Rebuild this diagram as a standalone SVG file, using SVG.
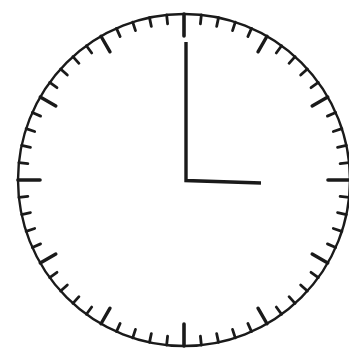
<svg xmlns="http://www.w3.org/2000/svg" width="349" height="357" viewBox="0 0 349 357">
<style>
.face{fill:#ffffff;stroke:#1a1a1a;stroke-width:2.4}
.tm{stroke:#1a1a1a;stroke-width:2.8;stroke-linecap:round}
.th{stroke:#1a1a1a;stroke-width:3.4;stroke-linecap:round}
.tq{stroke:#1a1a1a;stroke-width:3.6;stroke-linecap:round}
.hand{fill:none;stroke:#1a1a1a;stroke-width:3.4;stroke-linejoin:miter;stroke-linecap:butt}
</style>
<defs>
<line id="m" class="tm" x1="184" y1="14" x2="184" y2="23"/>
<line id="h" class="th" x1="184" y1="14" x2="184" y2="32"/>
<line id="q" class="tq" x1="184" y1="14" x2="184" y2="36"/>
</defs>
<rect width="349" height="357" fill="#ffffff"/>
<g id="face"><circle class="face" cx="184" cy="180" r="166"/></g>
<g id="ticks">
<use href="#q" transform="rotate(0 184 180)"/>
<use href="#m" transform="rotate(6 184 180)"/>
<use href="#m" transform="rotate(12 184 180)"/>
<use href="#m" transform="rotate(18 184 180)"/>
<use href="#m" transform="rotate(24 184 180)"/>
<use href="#h" transform="rotate(30 184 180)"/>
<use href="#m" transform="rotate(36 184 180)"/>
<use href="#m" transform="rotate(42 184 180)"/>
<use href="#m" transform="rotate(48 184 180)"/>
<use href="#m" transform="rotate(54 184 180)"/>
<use href="#h" transform="rotate(60 184 180)"/>
<use href="#m" transform="rotate(66 184 180)"/>
<use href="#m" transform="rotate(72 184 180)"/>
<use href="#m" transform="rotate(78 184 180)"/>
<use href="#m" transform="rotate(84 184 180)"/>
<use href="#q" transform="rotate(90 184 180)"/>
<use href="#m" transform="rotate(96 184 180)"/>
<use href="#m" transform="rotate(102 184 180)"/>
<use href="#m" transform="rotate(108 184 180)"/>
<use href="#m" transform="rotate(114 184 180)"/>
<use href="#h" transform="rotate(120 184 180)"/>
<use href="#m" transform="rotate(126 184 180)"/>
<use href="#m" transform="rotate(132 184 180)"/>
<use href="#m" transform="rotate(138 184 180)"/>
<use href="#m" transform="rotate(144 184 180)"/>
<use href="#h" transform="rotate(150 184 180)"/>
<use href="#m" transform="rotate(156 184 180)"/>
<use href="#m" transform="rotate(162 184 180)"/>
<use href="#m" transform="rotate(168 184 180)"/>
<use href="#m" transform="rotate(174 184 180)"/>
<use href="#q" transform="rotate(180 184 180)"/>
<use href="#m" transform="rotate(186 184 180)"/>
<use href="#m" transform="rotate(192 184 180)"/>
<use href="#m" transform="rotate(198 184 180)"/>
<use href="#m" transform="rotate(204 184 180)"/>
<use href="#h" transform="rotate(210 184 180)"/>
<use href="#m" transform="rotate(216 184 180)"/>
<use href="#m" transform="rotate(222 184 180)"/>
<use href="#m" transform="rotate(228 184 180)"/>
<use href="#m" transform="rotate(234 184 180)"/>
<use href="#h" transform="rotate(240 184 180)"/>
<use href="#m" transform="rotate(246 184 180)"/>
<use href="#m" transform="rotate(252 184 180)"/>
<use href="#m" transform="rotate(258 184 180)"/>
<use href="#m" transform="rotate(264 184 180)"/>
<use href="#q" transform="rotate(270 184 180)"/>
<use href="#m" transform="rotate(276 184 180)"/>
<use href="#m" transform="rotate(282 184 180)"/>
<use href="#m" transform="rotate(288 184 180)"/>
<use href="#m" transform="rotate(294 184 180)"/>
<use href="#h" transform="rotate(300 184 180)"/>
<use href="#m" transform="rotate(306 184 180)"/>
<use href="#m" transform="rotate(312 184 180)"/>
<use href="#m" transform="rotate(318 184 180)"/>
<use href="#m" transform="rotate(324 184 180)"/>
<use href="#h" transform="rotate(330 184 180)"/>
<use href="#m" transform="rotate(336 184 180)"/>
<use href="#m" transform="rotate(342 184 180)"/>
<use href="#m" transform="rotate(348 184 180)"/>
<use href="#m" transform="rotate(354 184 180)"/>
</g>
<g id="hands">
<path class="hand" d="M186 42 L186 180.5 L261 183"/>
</g>
</svg>
